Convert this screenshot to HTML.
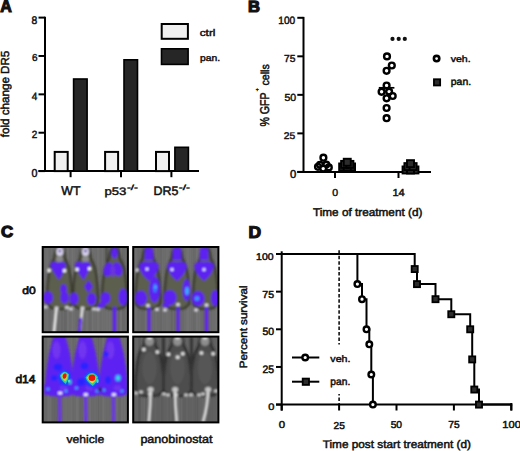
<!DOCTYPE html>
<html><head><meta charset="utf-8"><style>
html,body{margin:0;padding:0;background:#fff;}
svg{display:block;font-family:"Liberation Sans", sans-serif;text-rendering:geometricPrecision;}
</style></head><body>
<svg width="520" height="451" viewBox="0 0 520 451">
<text transform="matrix(0.9132 0.0000 0.0000 1.0000 0.2283 12.2000)" font-size="17.5" font-weight="bold" fill="#111" stroke="#111" stroke-width="1.2">A</text>
<line x1="45.00" y1="16.70" x2="45.00" y2="172.10" stroke="#000" stroke-width="2"/>
<line x1="38.50" y1="171.10" x2="199.00" y2="171.10" stroke="#000" stroke-width="2"/>
<line x1="38.50" y1="171.10" x2="45.00" y2="171.10" stroke="#000" stroke-width="2"/>
<text transform="matrix(0.9565 0.0000 0.0000 1.0182 31.5609 177.1455)" font-size="11.2" fill="#111" stroke="#111" stroke-width="0.5">0</text>
<line x1="38.50" y1="132.72" x2="45.00" y2="132.72" stroke="#000" stroke-width="2"/>
<text transform="matrix(0.8870 0.0000 0.0000 0.9333 31.7783 138.4667)" font-size="11.2" fill="#111" stroke="#111" stroke-width="0.5">2</text>
<line x1="38.50" y1="94.35" x2="45.00" y2="94.35" stroke="#000" stroke-width="2"/>
<text transform="matrix(0.8960 0.0000 0.0000 0.9455 31.7000 100.1636)" font-size="11.2" fill="#111" stroke="#111" stroke-width="0.5">4</text>
<line x1="38.50" y1="55.97" x2="45.00" y2="55.97" stroke="#000" stroke-width="2"/>
<text transform="matrix(0.8870 0.0000 0.0000 0.9091 31.9783 61.4727)" font-size="11.2" fill="#111" stroke="#111" stroke-width="0.5">6</text>
<line x1="38.50" y1="17.60" x2="45.00" y2="17.60" stroke="#000" stroke-width="2"/>
<text transform="matrix(0.9217 0.0000 0.0000 0.9818 31.4696 23.7545)" font-size="11.2" fill="#111" stroke="#111" stroke-width="0.5">8</text>
<rect x="54.70" y="151.91" width="13.00" height="19.19" fill="#f0f0f0" stroke="#000" stroke-width="2"/>
<rect x="73.60" y="79.00" width="13.50" height="92.10" fill="#262626" stroke="#000" stroke-width="1.6"/>
<rect x="105.10" y="151.91" width="13.00" height="19.19" fill="#f0f0f0" stroke="#000" stroke-width="2"/>
<rect x="124.00" y="59.81" width="13.50" height="111.29" fill="#262626" stroke="#000" stroke-width="1.6"/>
<rect x="156.00" y="151.91" width="13.00" height="19.19" fill="#f0f0f0" stroke="#000" stroke-width="2"/>
<rect x="174.90" y="147.31" width="13.50" height="23.79" fill="#262626" stroke="#000" stroke-width="1.6"/>
<line x1="70.60" y1="171.10" x2="70.60" y2="177.20" stroke="#000" stroke-width="2"/>
<line x1="121.00" y1="171.10" x2="121.00" y2="177.20" stroke="#000" stroke-width="2"/>
<line x1="171.40" y1="171.10" x2="171.40" y2="177.20" stroke="#000" stroke-width="2"/>
<text transform="matrix(0.9949 0.0000 0.0000 1.0111 61.2487 195.1472)" font-size="12.4" fill="#111" stroke="#111" stroke-width="0.5">WT</text>
<text transform="matrix(1.0600 0.0000 0.0000 0.8783 104.4700 194.5848)" font-size="12.4" fill="#111" stroke="#111" stroke-width="0.5">p53</text>
<text transform="matrix(1.3000 0.0000 0.0000 0.8286 126.9750 190.1929)" font-size="9" fill="#111" stroke="#111" stroke-width="0.5">-/-</text>
<text transform="matrix(1.0021 0.0000 0.0000 1.0000 153.4484 195.0500)" font-size="12.4" fill="#111" stroke="#111" stroke-width="0.5">DR5</text>
<text transform="matrix(1.3250 0.0000 0.0000 0.8286 178.6687 190.1929)" font-size="9" fill="#111" stroke="#111" stroke-width="0.5">-/-</text>
<text transform="matrix(0.0000 -0.9305 0.9333 0.0000 9.4333 137.3000)" font-size="12.5" fill="#111" stroke="#111" stroke-width="0.5">fold change DR5</text>
<rect x="161.70" y="24.00" width="26.20" height="14.80" fill="#f0f0f0" stroke="#000" stroke-width="2"/>
<rect x="161.50" y="48.80" width="26.60" height="15.60" fill="#262626" stroke="#000" stroke-width="1.6"/>
<text transform="matrix(1.1245 0.0000 0.0000 0.9091 199.7189 35.7727)" font-size="10.5" fill="#111" stroke="#111" stroke-width="0.5">ctrl</text>
<text transform="matrix(0.9818 0.0000 0.0000 0.8485 200.0091 60.7788)" font-size="10.5" fill="#111" stroke="#111" stroke-width="0.5">pan.</text>
<text transform="matrix(1.0364 0.0000 0.0000 1.0083 247.8818 11.7958)" font-size="16" font-weight="bold" fill="#111" stroke="#111" stroke-width="1.2">B</text>
<line x1="303.50" y1="16.90" x2="303.50" y2="172.80" stroke="#000" stroke-width="2"/>
<line x1="297.30" y1="171.90" x2="431.00" y2="171.90" stroke="#000" stroke-width="2"/>
<line x1="297.30" y1="171.90" x2="303.50" y2="171.90" stroke="#000" stroke-width="2"/>
<text transform="matrix(1.0087 0.0000 0.0000 1.0182 290.0478 178.2455)" font-size="11.2" fill="#111" stroke="#111" stroke-width="0.5">0</text>
<line x1="297.30" y1="133.38" x2="303.50" y2="133.38" stroke="#000" stroke-width="2"/>
<text transform="matrix(0.9167 0.0000 0.0000 0.8588 283.8708 139.4706)" font-size="11.2" fill="#111" stroke="#111" stroke-width="0.5">25</text>
<line x1="297.30" y1="94.85" x2="303.50" y2="94.85" stroke="#000" stroke-width="2"/>
<text transform="matrix(0.9417 0.0000 0.0000 0.9176 284.4646 100.5412)" font-size="11.2" fill="#111" stroke="#111" stroke-width="0.5">50</text>
<line x1="297.30" y1="56.33" x2="303.50" y2="56.33" stroke="#000" stroke-width="2"/>
<text transform="matrix(0.9167 0.0000 0.0000 0.9176 284.0708 62.2412)" font-size="11.2" fill="#111" stroke="#111" stroke-width="0.5">75</text>
<line x1="297.30" y1="17.80" x2="303.50" y2="17.80" stroke="#000" stroke-width="2"/>
<text transform="matrix(0.9056 0.0000 0.0000 0.9455 278.3472 23.6636)" font-size="11.2" fill="#111" stroke="#111" stroke-width="0.5">100</text>
<line x1="335.00" y1="171.90" x2="335.00" y2="178.00" stroke="#000" stroke-width="2"/>
<line x1="398.50" y1="171.90" x2="398.50" y2="178.00" stroke="#000" stroke-width="2"/>
<text transform="matrix(0.9391 0.0000 0.0000 0.9091 332.2652 196.2727)" font-size="11.2" fill="#111" stroke="#111" stroke-width="0.5">0</text>
<text transform="matrix(0.9917 0.0000 0.0000 0.9091 392.4042 196.2727)" font-size="11.2" fill="#111" stroke="#111" stroke-width="0.5">14</text>
<text transform="matrix(1.0522 0.0000 0.0000 1.0000 312.9000 215.6000)" font-size="11.2" fill="#111" stroke="#111" stroke-width="0.5">Time of treatment (d)</text>
<text transform="matrix(0.0000 -0.8868 1.0629 0.0000 268.8343 126.6217)" font-size="12" fill="#111" stroke="#111" stroke-width="0.5">% GFP</text>
<text transform="matrix(0.0000 -0.7500 0.7500 0.0000 259.1875 91.2000)" font-size="7" fill="#111" stroke="#111" stroke-width="0.5">+</text>
<text transform="matrix(0.0000 -0.8894 0.9622 0.0000 268.8595 85.5223)" font-size="12" fill="#111" stroke="#111" stroke-width="0.5">cells</text>
<circle cx="392.5" cy="38.9" r="2.1" fill="#111"/>
<circle cx="398.7" cy="38.9" r="2.1" fill="#111"/>
<circle cx="404.8" cy="38.9" r="2.1" fill="#111"/>
<circle cx="387.00" cy="56.40" r="2.9" fill="none" stroke="#000" stroke-width="2.4"/>
<circle cx="391.80" cy="65.50" r="2.9" fill="none" stroke="#000" stroke-width="2.4"/>
<circle cx="386.60" cy="70.80" r="2.9" fill="none" stroke="#000" stroke-width="2.4"/>
<circle cx="386.60" cy="85.50" r="2.9" fill="none" stroke="#000" stroke-width="2.4"/>
<circle cx="381.60" cy="91.80" r="2.9" fill="none" stroke="#000" stroke-width="2.4"/>
<circle cx="389.10" cy="91.60" r="2.9" fill="none" stroke="#000" stroke-width="2.4"/>
<circle cx="392.70" cy="96.00" r="2.9" fill="none" stroke="#000" stroke-width="2.4"/>
<circle cx="386.60" cy="98.30" r="2.9" fill="none" stroke="#000" stroke-width="2.4"/>
<circle cx="386.60" cy="108.00" r="2.9" fill="none" stroke="#000" stroke-width="2.4"/>
<circle cx="386.60" cy="118.20" r="2.9" fill="none" stroke="#000" stroke-width="2.4"/>
<line x1="378.80" y1="87.80" x2="394.40" y2="87.80" stroke="#000" stroke-width="1.7"/>
<circle cx="318.00" cy="166.80" r="2.9" fill="none" stroke="#000" stroke-width="2.4"/>
<circle cx="320.00" cy="164.80" r="2.9" fill="none" stroke="#000" stroke-width="2.4"/>
<circle cx="326.30" cy="164.60" r="2.9" fill="none" stroke="#000" stroke-width="2.4"/>
<circle cx="328.80" cy="167.40" r="2.9" fill="none" stroke="#000" stroke-width="2.4"/>
<circle cx="323.20" cy="168.60" r="2.9" fill="#fff" stroke="#000" stroke-width="2.4"/>
<circle cx="323.40" cy="157.70" r="2.9" fill="#fff" stroke="#000" stroke-width="2.4"/>
<rect x="339.15" y="163.45" width="7.0" height="7.0" fill="#2c2c2c" stroke="#000" stroke-width="1.9"/>
<rect x="348.05" y="163.45" width="7.0" height="7.0" fill="#2c2c2c" stroke="#000" stroke-width="1.9"/>
<rect x="343.70" y="163.50" width="7.0" height="7.0" fill="#2c2c2c" stroke="#000" stroke-width="1.9"/>
<rect x="341.10" y="160.90" width="7.0" height="7.0" fill="#2c2c2c" stroke="#000" stroke-width="1.9"/>
<rect x="346.40" y="160.90" width="7.0" height="7.0" fill="#2c2c2c" stroke="#000" stroke-width="1.9"/>
<rect x="343.75" y="158.75" width="7.0" height="7.0" fill="#2c2c2c" stroke="#000" stroke-width="1.9"/>
<rect x="402.55" y="166.45" width="7.0" height="7.0" fill="#2c2c2c" stroke="#000" stroke-width="1.9"/>
<rect x="411.45" y="166.45" width="7.0" height="7.0" fill="#2c2c2c" stroke="#000" stroke-width="1.9"/>
<rect x="407.00" y="166.50" width="7.0" height="7.0" fill="#2c2c2c" stroke="#000" stroke-width="1.9"/>
<rect x="404.40" y="163.10" width="7.0" height="7.0" fill="#2c2c2c" stroke="#000" stroke-width="1.9"/>
<rect x="409.60" y="163.10" width="7.0" height="7.0" fill="#2c2c2c" stroke="#000" stroke-width="1.9"/>
<rect x="407.00" y="160.15" width="7.0" height="7.0" fill="#2c2c2c" stroke="#000" stroke-width="1.9"/>
<circle cx="436.60" cy="58.60" r="2.7" fill="#fff" stroke="#000" stroke-width="2.6"/>
<rect x="433.95" y="79.25" width="6.2" height="6.2" fill="#2c2c2c" stroke="#000" stroke-width="1.8"/>
<text transform="matrix(1.0051 0.0000 0.0000 0.8485 450.6513 62.3879)" font-size="10.5" fill="#111" stroke="#111" stroke-width="0.5">veh.</text>
<text transform="matrix(0.9922 0.0000 0.0000 0.9576 450.8039 85.3061)" font-size="10.5" fill="#111" stroke="#111" stroke-width="0.5">pan.</text>
<text transform="matrix(1.0000 0.0000 0.0000 0.9769 248.5000 237.5115)" font-size="17.5" font-weight="bold" fill="#111" stroke="#111" stroke-width="1.2">D</text>
<line x1="281.70" y1="251.30" x2="281.70" y2="410.60" stroke="#000" stroke-width="2"/>
<line x1="276.00" y1="404.60" x2="512.30" y2="404.60" stroke="#000" stroke-width="2"/>
<line x1="276.00" y1="404.60" x2="281.70" y2="404.60" stroke="#000" stroke-width="2"/>
<text transform="matrix(1.0857 0.0000 0.0000 0.9333 268.3286 410.0667)" font-size="10.2" fill="#111" stroke="#111" stroke-width="0.5">0</text>
<line x1="276.00" y1="366.95" x2="281.70" y2="366.95" stroke="#000" stroke-width="2"/>
<text transform="matrix(1.0227 0.0000 0.0000 1.0667 262.4943 372.7333)" font-size="10.2" fill="#111" stroke="#111" stroke-width="0.5">25</text>
<line x1="276.00" y1="329.30" x2="281.70" y2="329.30" stroke="#000" stroke-width="2"/>
<text transform="matrix(1.0227 0.0000 0.0000 1.0333 262.4943 334.9917)" font-size="10.2" fill="#111" stroke="#111" stroke-width="0.5">50</text>
<line x1="276.00" y1="291.65" x2="281.70" y2="291.65" stroke="#000" stroke-width="2"/>
<text transform="matrix(1.0364 0.0000 0.0000 0.9867 262.3409 297.7533)" font-size="10.2" fill="#111" stroke="#111" stroke-width="0.5">75</text>
<line x1="276.00" y1="254.00" x2="281.70" y2="254.00" stroke="#000" stroke-width="2"/>
<text transform="matrix(1.0277 0.0000 0.0000 0.9600 256.0862 259.9600)" font-size="10.2" fill="#111" stroke="#111" stroke-width="0.5">100</text>
<line x1="281.70" y1="404.60" x2="281.70" y2="410.50" stroke="#000" stroke-width="2"/>
<text transform="matrix(1.1238 0.0000 0.0000 0.9867 278.7190 428.3533)" font-size="10.2" fill="#111" stroke="#111" stroke-width="0.5">0</text>
<line x1="339.10" y1="404.60" x2="339.10" y2="410.50" stroke="#000" stroke-width="2"/>
<text transform="matrix(1.0000 0.0000 0.0000 0.9733 333.5500 428.6567)" font-size="10.2" fill="#111" stroke="#111" stroke-width="0.5">25</text>
<line x1="396.50" y1="404.60" x2="396.50" y2="410.50" stroke="#000" stroke-width="2"/>
<text transform="matrix(1.0091 0.0000 0.0000 0.9733 390.6477 428.2567)" font-size="10.2" fill="#111" stroke="#111" stroke-width="0.5">50</text>
<line x1="453.90" y1="404.60" x2="453.90" y2="410.50" stroke="#000" stroke-width="2"/>
<text transform="matrix(1.0000 0.0000 0.0000 0.9867 448.2500 428.4533)" font-size="10.2" fill="#111" stroke="#111" stroke-width="0.5">75</text>
<line x1="511.30" y1="404.60" x2="511.30" y2="410.50" stroke="#000" stroke-width="2"/>
<text transform="matrix(1.0892 0.0000 0.0000 1.0000 502.3554 428.3500)" font-size="10.2" fill="#111" stroke="#111" stroke-width="0.5">100</text>
<line x1="511.30" y1="403.00" x2="511.30" y2="410.50" stroke="#000" stroke-width="2"/>
<text transform="matrix(1.0531 0.0000 0.0000 0.9909 322.7000 447.8227)" font-size="11.2" fill="#111" stroke="#111" stroke-width="0.5">Time post start treatment (d)</text>
<text transform="matrix(0.0000 -1.0018 0.9189 0.0000 246.5405 368.1514)" font-size="11.6" fill="#111" stroke="#111" stroke-width="0.5">Percent survival</text>
<line x1="339.10" y1="250.3" x2="339.10" y2="404" stroke="#000" stroke-width="1.5" stroke-dasharray="3.5,1.95"/>
<polyline points="281.7,254.0 414.7,254.0 414.7,269.1 417.0,269.1 417.0,284.1 435.5,284.1 435.5,299.2 451.3,299.2 451.3,314.2 470.2,314.2 470.2,329.3 472.2,329.3 472.2,359.4 474.3,359.4 474.3,389.5 479.0,389.5 479.0,404.6 511.3,404.6" fill="none" stroke="#000" stroke-width="2"/>
<polyline points="281.7,254.0 357.4,254.0 357.4,284.1 362.0,284.1 362.0,299.2 366.5,299.2 366.5,329.3 369.3,329.3 369.3,344.4 371.3,344.4 371.3,374.5 372.9,374.5 372.9,404.6" fill="none" stroke="#000" stroke-width="2"/>
<circle cx="357.40" cy="284.12" r="2.8" fill="#fff" stroke="#000" stroke-width="2.4"/>
<circle cx="362.00" cy="299.18" r="2.8" fill="#fff" stroke="#000" stroke-width="2.4"/>
<circle cx="366.50" cy="329.30" r="2.8" fill="#fff" stroke="#000" stroke-width="2.4"/>
<circle cx="369.30" cy="344.36" r="2.8" fill="#fff" stroke="#000" stroke-width="2.4"/>
<circle cx="371.30" cy="374.48" r="2.8" fill="#fff" stroke="#000" stroke-width="2.4"/>
<circle cx="372.90" cy="404.60" r="2.8" fill="#fff" stroke="#000" stroke-width="2.4"/>
<rect x="411.65" y="266.01" width="6.1" height="6.1" fill="#2c2c2c" stroke="#000" stroke-width="1.8"/>
<rect x="413.95" y="281.07" width="6.1" height="6.1" fill="#2c2c2c" stroke="#000" stroke-width="1.8"/>
<rect x="432.45" y="296.13" width="6.1" height="6.1" fill="#2c2c2c" stroke="#000" stroke-width="1.8"/>
<rect x="448.25" y="311.19" width="6.1" height="6.1" fill="#2c2c2c" stroke="#000" stroke-width="1.8"/>
<rect x="467.15" y="326.25" width="6.1" height="6.1" fill="#2c2c2c" stroke="#000" stroke-width="1.8"/>
<rect x="469.15" y="356.37" width="6.1" height="6.1" fill="#2c2c2c" stroke="#000" stroke-width="1.8"/>
<rect x="471.25" y="386.49" width="6.1" height="6.1" fill="#2c2c2c" stroke="#000" stroke-width="1.8"/>
<rect x="475.95" y="401.55" width="6.1" height="6.1" fill="#2c2c2c" stroke="#000" stroke-width="1.8"/>
<rect x="300" y="344.5" width="56" height="49.5" fill="#fff"/>
<line x1="292.00" y1="357.50" x2="319.30" y2="357.50" stroke="#000" stroke-width="2"/>
<circle cx="305.20" cy="357.50" r="2.8" fill="#fff" stroke="#000" stroke-width="2.4"/>
<text transform="matrix(1.0154 0.0000 0.0000 0.8970 330.3538 361.9758)" font-size="10.5" fill="#111" stroke="#111" stroke-width="0.5">veh.</text>
<line x1="292.00" y1="381.70" x2="319.30" y2="381.70" stroke="#000" stroke-width="2"/>
<rect x="302.70" y="378.60" width="6.3" height="6.3" fill="#2c2c2c" stroke="#000" stroke-width="1.8"/>
<text transform="matrix(0.9766 0.0000 0.0000 0.9818 330.3117 385.3455)" font-size="10.5" fill="#111" stroke="#111" stroke-width="0.5">pan.</text>
<text transform="matrix(0.9920 0.0000 0.0000 0.9358 0.9000 236.9981)" font-size="17" font-weight="bold" fill="#111" stroke="#111" stroke-width="1.3">C</text>
<text transform="matrix(1.0038 0.0000 0.0000 0.8718 22.2000 293.6641)" font-size="12" fill="#111" stroke="#111" stroke-width="0.8">d0</text>
<text transform="matrix(1.0050 0.0000 0.0000 0.9538 15.4000 383.2231)" font-size="12" fill="#111" stroke="#111" stroke-width="0.8">d14</text>
<text transform="matrix(1.0094 0.0000 0.0000 0.9189 66.4523 443.2703)" font-size="12" fill="#111" stroke="#111" stroke-width="0.5">vehicle</text>
<text transform="matrix(1.0482 0.0000 0.0000 0.9617 140.3759 443.1553)" font-size="12" fill="#111" stroke="#111" stroke-width="0.5">panobinostat</text>
<defs><filter id="bl" x="-10%" y="-10%" width="120%" height="120%"><feGaussianBlur stdDeviation="1.0"/></filter><filter id="bl2" x="-10%" y="-10%" width="120%" height="120%"><feGaussianBlur stdDeviation="0.55"/></filter></defs>
<clipPath id="c1"><rect x="42.7" y="247" width="85.2" height="85.2"/></clipPath><g clip-path="url(#c1)"><rect x="42.7" y="247" width="85.2" height="85.2" fill="#6c6c6c"/><rect x="42.7" y="247" width="1.5" height="85.2" fill="rgb(114,114,114)" opacity="0.5"/><rect x="44.2" y="247" width="1" height="85.2" fill="rgb(104,104,104)" opacity="0.5"/><rect x="45.2" y="247" width="1" height="85.2" fill="rgb(111,111,111)" opacity="0.5"/><rect x="46.2" y="247" width="2.5" height="85.2" fill="rgb(111,111,111)" opacity="0.5"/><rect x="48.7" y="247" width="2.5" height="85.2" fill="rgb(102,102,102)" opacity="0.5"/><rect x="51.2" y="247" width="1" height="85.2" fill="rgb(111,111,111)" opacity="0.5"/><rect x="52.2" y="247" width="1" height="85.2" fill="rgb(108,108,108)" opacity="0.5"/><rect x="53.2" y="247" width="2.5" height="85.2" fill="rgb(115,115,115)" opacity="0.5"/><rect x="55.7" y="247" width="1" height="85.2" fill="rgb(118,118,118)" opacity="0.5"/><rect x="56.7" y="247" width="2.5" height="85.2" fill="rgb(104,104,104)" opacity="0.5"/><rect x="59.2" y="247" width="1.5" height="85.2" fill="rgb(114,114,114)" opacity="0.5"/><rect x="60.7" y="247" width="1" height="85.2" fill="rgb(106,106,106)" opacity="0.5"/><rect x="61.7" y="247" width="1" height="85.2" fill="rgb(96,96,96)" opacity="0.5"/><rect x="62.7" y="247" width="1" height="85.2" fill="rgb(116,116,116)" opacity="0.5"/><rect x="63.7" y="247" width="3" height="85.2" fill="rgb(96,96,96)" opacity="0.5"/><rect x="66.7" y="247" width="2.5" height="85.2" fill="rgb(117,117,117)" opacity="0.5"/><rect x="69.2" y="247" width="1.5" height="85.2" fill="rgb(109,109,109)" opacity="0.5"/><rect x="70.7" y="247" width="1" height="85.2" fill="rgb(112,112,112)" opacity="0.5"/><rect x="71.7" y="247" width="1.5" height="85.2" fill="rgb(120,120,120)" opacity="0.5"/><rect x="73.2" y="247" width="2.5" height="85.2" fill="rgb(111,111,111)" opacity="0.5"/><rect x="75.7" y="247" width="3" height="85.2" fill="rgb(103,103,103)" opacity="0.5"/><rect x="78.7" y="247" width="2" height="85.2" fill="rgb(103,103,103)" opacity="0.5"/><rect x="80.7" y="247" width="1.5" height="85.2" fill="rgb(120,120,120)" opacity="0.5"/><rect x="82.2" y="247" width="2.5" height="85.2" fill="rgb(105,105,105)" opacity="0.5"/><rect x="84.7" y="247" width="1" height="85.2" fill="rgb(109,109,109)" opacity="0.5"/><rect x="85.7" y="247" width="3" height="85.2" fill="rgb(116,116,116)" opacity="0.5"/><rect x="88.7" y="247" width="1" height="85.2" fill="rgb(101,101,101)" opacity="0.5"/><rect x="89.7" y="247" width="2" height="85.2" fill="rgb(99,99,99)" opacity="0.5"/><rect x="91.7" y="247" width="2" height="85.2" fill="rgb(119,119,119)" opacity="0.5"/><rect x="93.7" y="247" width="3" height="85.2" fill="rgb(109,109,109)" opacity="0.5"/><rect x="96.7" y="247" width="3" height="85.2" fill="rgb(117,117,117)" opacity="0.5"/><rect x="99.7" y="247" width="1.5" height="85.2" fill="rgb(105,105,105)" opacity="0.5"/><rect x="101.2" y="247" width="2" height="85.2" fill="rgb(114,114,114)" opacity="0.5"/><rect x="103.2" y="247" width="2.5" height="85.2" fill="rgb(112,112,112)" opacity="0.5"/><rect x="105.7" y="247" width="2.5" height="85.2" fill="rgb(114,114,114)" opacity="0.5"/><rect x="108.2" y="247" width="1" height="85.2" fill="rgb(111,111,111)" opacity="0.5"/><rect x="109.2" y="247" width="1.5" height="85.2" fill="rgb(119,119,119)" opacity="0.5"/><rect x="110.7" y="247" width="2.5" height="85.2" fill="rgb(109,109,109)" opacity="0.5"/><rect x="113.2" y="247" width="1.5" height="85.2" fill="rgb(107,107,107)" opacity="0.5"/><rect x="114.7" y="247" width="3" height="85.2" fill="rgb(118,118,118)" opacity="0.5"/><rect x="117.7" y="247" width="2" height="85.2" fill="rgb(98,98,98)" opacity="0.5"/><rect x="119.7" y="247" width="2.5" height="85.2" fill="rgb(117,117,117)" opacity="0.5"/><rect x="122.2" y="247" width="3" height="85.2" fill="rgb(99,99,99)" opacity="0.5"/><rect x="125.2" y="247" width="1.5" height="85.2" fill="rgb(112,112,112)" opacity="0.5"/><rect x="126.7" y="247" width="2.5" height="85.2" fill="rgb(107,107,107)" opacity="0.5"/><g filter="url(#bl)"><path d="M59.5,247.0 L62.7,249.0 L64.1,253.0 L64.7,258.0 L67.0,263.0 L69.0,268.0 L70.5,277.0 L71.5,287.0 L72.1,297.0 L71.7,304.0 L67.5,308.0 L62.5,309.0 L56.5,309.0 L51.5,308.0 L47.3,304.0 L46.9,297.0 L47.5,287.0 L48.5,277.0 L50.0,268.0 L52.0,263.0 L54.3,258.0 L54.9,253.0 L56.3,249.0 L59.5,247.0 Z" fill="#5c5e4e" stroke="#38382c" stroke-width="2.2"/><line x1="56.5" y1="308.0" x2="54.0" y2="332.0" stroke="#ececec" stroke-width="2.6" stroke-linecap="round"/><path d="M85.5,247.0 L88.7,249.0 L90.1,253.0 L90.7,258.0 L93.0,263.0 L95.0,268.0 L96.5,277.0 L97.5,287.0 L98.1,297.0 L97.7,304.0 L93.5,308.0 L88.5,309.0 L82.5,309.0 L77.5,308.0 L73.3,304.0 L72.9,297.0 L73.5,287.0 L74.5,277.0 L76.0,268.0 L78.0,263.0 L80.3,258.0 L80.9,253.0 L82.3,249.0 L85.5,247.0 Z" fill="#5c5e4e" stroke="#38382c" stroke-width="2.2"/><line x1="82.5" y1="308.0" x2="79.5" y2="332.0" stroke="#e2e2e2" stroke-width="2.6" stroke-linecap="round"/><path d="M114.5,247.0 L117.7,249.0 L119.1,253.0 L119.7,258.0 L122.0,263.0 L124.0,268.0 L125.5,277.0 L126.5,287.0 L127.1,297.0 L126.7,304.0 L122.5,308.0 L117.5,309.0 L111.5,309.0 L106.5,308.0 L102.3,304.0 L101.9,297.0 L102.5,287.0 L103.5,277.0 L105.0,268.0 L107.0,263.0 L109.3,258.0 L109.9,253.0 L111.3,249.0 L114.5,247.0 Z" fill="#5c5e4e" stroke="#38382c" stroke-width="2.2"/><line x1="114.5" y1="308.0" x2="114.5" y2="332.0" stroke="#5d22f2" stroke-width="3.6" stroke-linecap="round"/><line x1="80.6" y1="319.0" x2="79.3" y2="332.0" stroke="#5d22f2" stroke-width="2.8" stroke-linecap="round"/><ellipse cx="59.8" cy="251.5" rx="3.4" ry="4.6" fill="#e0daf4"/><ellipse cx="59.8" cy="251.0" rx="1.1" ry="1.7" fill="#3a1a80"/><ellipse cx="59.5" cy="259.0" rx="3.5" ry="3.5" fill="#8a8a88"/><ellipse cx="85.5" cy="251.5" rx="3.4" ry="4.6" fill="#e0daf4"/><ellipse cx="85.5" cy="251.0" rx="1.1" ry="1.7" fill="#3a1a80"/><ellipse cx="85.5" cy="259.0" rx="3.5" ry="3.5" fill="#8a8a88"/><ellipse cx="114.5" cy="253.0" rx="3.2" ry="5.5" fill="#5d22f2"/><path d="M50,264 Q54,260 58,263 Q62,260 66,264 Q65,271 59,280 Q52,271 50,264 Z" fill="#5d22f2"/><path d="M74.5,264 Q78.5,260 82.5,263 Q86.5,260 90.5,264 Q89.5,271 83.5,280 Q76.5,271 74.5,264 Z" fill="#5d22f2"/><ellipse cx="108.2" cy="269.5" rx="4.6" ry="7.2" fill="#5d22f2" transform="rotate(15 108.2 269.5)"/><ellipse cx="117.5" cy="269.2" rx="4.6" ry="7.2" fill="#5d22f2" transform="rotate(-15 117.5 269.2)"/><ellipse cx="112.8" cy="271.0" rx="2.2" ry="6" fill="#6a38d8"/><line x1="106.5" y1="247.0" x2="106.5" y2="262.0" stroke="#3a3a34" stroke-width="1.6" stroke-linecap="round"/><polygon points="88.5,280.0 93.0,286.5 88.5,293.0 84.0,286.5" fill="#5d22f2"/><ellipse cx="63.5" cy="289.0" rx="3.3" ry="5" fill="#5d22f2"/><ellipse cx="48.0" cy="297.5" rx="5" ry="6.2" fill="#5d22f2"/><ellipse cx="64.5" cy="297.5" rx="4.2" ry="6" fill="#5d22f2"/><ellipse cx="74.0" cy="298.5" rx="4.5" ry="6" fill="#5d22f2"/><ellipse cx="91.5" cy="299.0" rx="4.6" ry="6.2" fill="#5d22f2"/><ellipse cx="105.5" cy="298.0" rx="5" ry="6" fill="#5d22f2"/><ellipse cx="123.0" cy="297.0" rx="4.5" ry="8.5" fill="#5d22f2"/><ellipse cx="101.5" cy="305.0" rx="4.5" ry="2.6" fill="#5d22f2" transform="rotate(-30 101.5 305.0)"/><ellipse cx="49.0" cy="270.4" rx="1.8" ry="1.8" fill="#ffffff"/><ellipse cx="64.5" cy="270.8" rx="1.8" ry="1.8" fill="#ffffff"/><ellipse cx="77.0" cy="269.5" rx="1.8" ry="1.8" fill="#ffffff"/><ellipse cx="89.5" cy="268.8" rx="1.8" ry="1.8" fill="#ffffff"/><ellipse cx="45.5" cy="307.0" rx="2.2" ry="1.5" fill="#d8d8e0"/><ellipse cx="67.0" cy="307.5" rx="2.2" ry="1.5" fill="#d8d8e0"/><ellipse cx="71.0" cy="309.0" rx="2.2" ry="1.5" fill="#d8d8e0"/><ellipse cx="94.0" cy="309.0" rx="2.2" ry="1.5" fill="#d8d8e0"/><ellipse cx="98.0" cy="309.5" rx="2.2" ry="1.5" fill="#d8d8e0"/><ellipse cx="56.5" cy="308.0" rx="2.2" ry="1.5" fill="#d8d8e0"/><ellipse cx="82.5" cy="308.0" rx="2.2" ry="1.5" fill="#d8d8e0"/></g><g filter="url(#bl2)"></g></g><rect x="42.7" y="247" width="85.2" height="85.2" fill="none" stroke="#000" stroke-width="2"/>
<clipPath id="c2"><rect x="133.2" y="247" width="85.2" height="85.2"/></clipPath><g clip-path="url(#c2)"><rect x="133.2" y="247" width="85.2" height="85.2" fill="#6c6c6c"/><rect x="133.2" y="247" width="1" height="85.2" fill="rgb(98,98,98)" opacity="0.5"/><rect x="134.2" y="247" width="1" height="85.2" fill="rgb(107,107,107)" opacity="0.5"/><rect x="135.2" y="247" width="1.5" height="85.2" fill="rgb(119,119,119)" opacity="0.5"/><rect x="136.7" y="247" width="2" height="85.2" fill="rgb(104,104,104)" opacity="0.5"/><rect x="138.7" y="247" width="3" height="85.2" fill="rgb(102,102,102)" opacity="0.5"/><rect x="141.7" y="247" width="3" height="85.2" fill="rgb(97,97,97)" opacity="0.5"/><rect x="144.7" y="247" width="3" height="85.2" fill="rgb(117,117,117)" opacity="0.5"/><rect x="147.7" y="247" width="1.5" height="85.2" fill="rgb(109,109,109)" opacity="0.5"/><rect x="149.2" y="247" width="2.5" height="85.2" fill="rgb(119,119,119)" opacity="0.5"/><rect x="151.7" y="247" width="3" height="85.2" fill="rgb(107,107,107)" opacity="0.5"/><rect x="154.7" y="247" width="3" height="85.2" fill="rgb(110,110,110)" opacity="0.5"/><rect x="157.7" y="247" width="3" height="85.2" fill="rgb(104,104,104)" opacity="0.5"/><rect x="160.7" y="247" width="1" height="85.2" fill="rgb(96,96,96)" opacity="0.5"/><rect x="161.7" y="247" width="2" height="85.2" fill="rgb(110,110,110)" opacity="0.5"/><rect x="163.7" y="247" width="2" height="85.2" fill="rgb(108,108,108)" opacity="0.5"/><rect x="165.7" y="247" width="2.5" height="85.2" fill="rgb(112,112,112)" opacity="0.5"/><rect x="168.2" y="247" width="1.5" height="85.2" fill="rgb(113,113,113)" opacity="0.5"/><rect x="169.7" y="247" width="1.5" height="85.2" fill="rgb(103,103,103)" opacity="0.5"/><rect x="171.2" y="247" width="1.5" height="85.2" fill="rgb(96,96,96)" opacity="0.5"/><rect x="172.7" y="247" width="1.5" height="85.2" fill="rgb(106,106,106)" opacity="0.5"/><rect x="174.2" y="247" width="1.5" height="85.2" fill="rgb(100,100,100)" opacity="0.5"/><rect x="175.7" y="247" width="3" height="85.2" fill="rgb(112,112,112)" opacity="0.5"/><rect x="178.7" y="247" width="2" height="85.2" fill="rgb(112,112,112)" opacity="0.5"/><rect x="180.7" y="247" width="3" height="85.2" fill="rgb(101,101,101)" opacity="0.5"/><rect x="183.7" y="247" width="2.5" height="85.2" fill="rgb(109,109,109)" opacity="0.5"/><rect x="186.2" y="247" width="3" height="85.2" fill="rgb(120,120,120)" opacity="0.5"/><rect x="189.2" y="247" width="2" height="85.2" fill="rgb(114,114,114)" opacity="0.5"/><rect x="191.2" y="247" width="2" height="85.2" fill="rgb(107,107,107)" opacity="0.5"/><rect x="193.2" y="247" width="2.5" height="85.2" fill="rgb(101,101,101)" opacity="0.5"/><rect x="195.7" y="247" width="2.5" height="85.2" fill="rgb(118,118,118)" opacity="0.5"/><rect x="198.2" y="247" width="2.5" height="85.2" fill="rgb(116,116,116)" opacity="0.5"/><rect x="200.7" y="247" width="3" height="85.2" fill="rgb(103,103,103)" opacity="0.5"/><rect x="203.7" y="247" width="2.5" height="85.2" fill="rgb(104,104,104)" opacity="0.5"/><rect x="206.2" y="247" width="2.5" height="85.2" fill="rgb(112,112,112)" opacity="0.5"/><rect x="208.7" y="247" width="3" height="85.2" fill="rgb(107,107,107)" opacity="0.5"/><rect x="211.7" y="247" width="2.5" height="85.2" fill="rgb(110,110,110)" opacity="0.5"/><rect x="214.2" y="247" width="2" height="85.2" fill="rgb(114,114,114)" opacity="0.5"/><rect x="216.2" y="247" width="3" height="85.2" fill="rgb(119,119,119)" opacity="0.5"/><g filter="url(#bl)"><path d="M148.0,247.0 L151.2,249.0 L152.6,253.0 L153.2,258.0 L155.5,263.0 L157.5,268.0 L159.0,277.0 L160.0,287.0 L160.6,297.0 L160.2,304.0 L156.0,308.0 L151.0,309.0 L145.0,309.0 L140.0,308.0 L135.8,304.0 L135.4,297.0 L136.0,287.0 L137.0,277.0 L138.5,268.0 L140.5,263.0 L142.8,258.0 L143.4,253.0 L144.8,249.0 L148.0,247.0 Z" fill="#5c5e4e" stroke="#38382c" stroke-width="2.2"/><line x1="149.0" y1="308.0" x2="149.0" y2="332.0" stroke="#5d22f2" stroke-width="3.2" stroke-linecap="round"/><path d="M177.0,247.0 L180.2,249.0 L181.6,253.0 L182.2,258.0 L184.5,263.0 L186.5,268.0 L188.0,277.0 L189.0,287.0 L189.6,297.0 L189.2,304.0 L185.0,308.0 L180.0,309.0 L174.0,309.0 L169.0,308.0 L164.8,304.0 L164.4,297.0 L165.0,287.0 L166.0,277.0 L167.5,268.0 L169.5,263.0 L171.8,258.0 L172.4,253.0 L173.8,249.0 L177.0,247.0 Z" fill="#5c5e4e" stroke="#38382c" stroke-width="2.2"/><line x1="178.0" y1="308.0" x2="178.0" y2="332.0" stroke="#5d22f2" stroke-width="3.2" stroke-linecap="round"/><path d="M205.5,247.0 L208.7,249.0 L210.1,253.0 L210.7,258.0 L213.0,263.0 L215.0,268.0 L216.5,277.0 L217.5,287.0 L218.1,297.0 L217.7,304.0 L213.5,308.0 L208.5,309.0 L202.5,309.0 L197.5,308.0 L193.3,304.0 L192.9,297.0 L193.5,287.0 L194.5,277.0 L196.0,268.0 L198.0,263.0 L200.3,258.0 L200.9,253.0 L202.3,249.0 L205.5,247.0 Z" fill="#5c5e4e" stroke="#38382c" stroke-width="2.2"/><line x1="206.5" y1="308.0" x2="206.5" y2="332.0" stroke="#5d22f2" stroke-width="3.2" stroke-linecap="round"/><path d="M145,248 L153,248 L153.5,260 L144.5,260 Z" fill="#5d22f2"/><path d="M139,265 Q143,260 149,262 Q155,260 159,265 Q158,274 149,281 Q140,274 139,265 Z" fill="#5d22f2"/><path d="M173,248 L181,248 L181.5,260 L172.5,260 Z" fill="#5d22f2"/><path d="M167,265 Q171,260 177,262 Q183,260 187,265 Q186,274 177,281 Q168,274 167,265 Z" fill="#5d22f2"/><path d="M200,248 L208,248 L208.5,260 L199.5,260 Z" fill="#5d22f2"/><path d="M194,265 Q198,260 204,262 Q210,260 214,265 Q213,274 204,281 Q195,274 194,265 Z" fill="#5d22f2"/><ellipse cx="154.5" cy="289.5" rx="5.5" ry="13" fill="#5d22f2"/><ellipse cx="155.0" cy="288.0" rx="1.8" ry="4.5" fill="#2a7bff"/><ellipse cx="155.5" cy="287.0" rx="1" ry="1.5" fill="#50c8ff"/><ellipse cx="186.5" cy="290.0" rx="4" ry="11" fill="#5d22f2"/><ellipse cx="187.0" cy="291.0" rx="1.8" ry="4" fill="#36b0ff"/><ellipse cx="141.0" cy="298.0" rx="6" ry="7.5" fill="#5d22f2"/><ellipse cx="170.0" cy="297.5" rx="6.5" ry="7.5" fill="#5d22f2"/><ellipse cx="166.0" cy="305.0" rx="3.5" ry="2.5" fill="#5d22f2"/><ellipse cx="198.0" cy="298.5" rx="6.5" ry="7.5" fill="#5d22f2"/><ellipse cx="197.0" cy="298.5" rx="2.2" ry="2.2" fill="#2a9cff"/><ellipse cx="215.0" cy="298.0" rx="4" ry="8" fill="#5d22f2"/><ellipse cx="137.0" cy="270.0" rx="1.5" ry="1.5" fill="#f4f4ff"/><ellipse cx="147.0" cy="269.0" rx="1.5" ry="1.5" fill="#f4f4ff"/><ellipse cx="172.0" cy="269.6" rx="1.5" ry="1.5" fill="#f4f4ff"/><ellipse cx="204.0" cy="269.6" rx="1.5" ry="1.5" fill="#f4f4ff"/><ellipse cx="148.0" cy="305.5" rx="2.0" ry="1.5" fill="#eae8f4"/><ellipse cx="157.0" cy="309.5" rx="2.0" ry="1.5" fill="#eae8f4"/><ellipse cx="165.0" cy="310.0" rx="2.0" ry="1.5" fill="#eae8f4"/><ellipse cx="178.0" cy="304.5" rx="2.0" ry="1.5" fill="#eae8f4"/><ellipse cx="196.0" cy="310.0" rx="2.0" ry="1.5" fill="#eae8f4"/><ellipse cx="206.5" cy="305.0" rx="2.0" ry="1.5" fill="#eae8f4"/></g><g filter="url(#bl2)"></g></g><rect x="133.2" y="247" width="85.2" height="85.2" fill="none" stroke="#000" stroke-width="2"/>
<clipPath id="c3"><rect x="42.7" y="336.6" width="85.2" height="85.8"/></clipPath><g clip-path="url(#c3)"><rect x="42.7" y="336.6" width="85.2" height="85.8" fill="#6a6a6a"/><rect x="42.7" y="336.6" width="1.5" height="85.8" fill="rgb(112,112,112)" opacity="0.5"/><rect x="44.2" y="336.6" width="3" height="85.8" fill="rgb(98,98,98)" opacity="0.5"/><rect x="47.2" y="336.6" width="2" height="85.8" fill="rgb(113,113,113)" opacity="0.5"/><rect x="49.2" y="336.6" width="2.5" height="85.8" fill="rgb(114,114,114)" opacity="0.5"/><rect x="51.7" y="336.6" width="3" height="85.8" fill="rgb(96,96,96)" opacity="0.5"/><rect x="54.7" y="336.6" width="3" height="85.8" fill="rgb(94,94,94)" opacity="0.5"/><rect x="57.7" y="336.6" width="2.5" height="85.8" fill="rgb(102,102,102)" opacity="0.5"/><rect x="60.2" y="336.6" width="3" height="85.8" fill="rgb(101,101,101)" opacity="0.5"/><rect x="63.2" y="336.6" width="1.5" height="85.8" fill="rgb(116,116,116)" opacity="0.5"/><rect x="64.7" y="336.6" width="2.5" height="85.8" fill="rgb(111,111,111)" opacity="0.5"/><rect x="67.2" y="336.6" width="3" height="85.8" fill="rgb(109,109,109)" opacity="0.5"/><rect x="70.2" y="336.6" width="2.5" height="85.8" fill="rgb(114,114,114)" opacity="0.5"/><rect x="72.7" y="336.6" width="1.5" height="85.8" fill="rgb(101,101,101)" opacity="0.5"/><rect x="74.2" y="336.6" width="1.5" height="85.8" fill="rgb(110,110,110)" opacity="0.5"/><rect x="75.7" y="336.6" width="2.5" height="85.8" fill="rgb(117,117,117)" opacity="0.5"/><rect x="78.2" y="336.6" width="1" height="85.8" fill="rgb(115,115,115)" opacity="0.5"/><rect x="79.2" y="336.6" width="1" height="85.8" fill="rgb(99,99,99)" opacity="0.5"/><rect x="80.2" y="336.6" width="3" height="85.8" fill="rgb(95,95,95)" opacity="0.5"/><rect x="83.2" y="336.6" width="2" height="85.8" fill="rgb(118,118,118)" opacity="0.5"/><rect x="85.2" y="336.6" width="1" height="85.8" fill="rgb(102,102,102)" opacity="0.5"/><rect x="86.2" y="336.6" width="2.5" height="85.8" fill="rgb(113,113,113)" opacity="0.5"/><rect x="88.7" y="336.6" width="2.5" height="85.8" fill="rgb(116,116,116)" opacity="0.5"/><rect x="91.2" y="336.6" width="2.5" height="85.8" fill="rgb(106,106,106)" opacity="0.5"/><rect x="93.7" y="336.6" width="3" height="85.8" fill="rgb(108,108,108)" opacity="0.5"/><rect x="96.7" y="336.6" width="1.5" height="85.8" fill="rgb(105,105,105)" opacity="0.5"/><rect x="98.2" y="336.6" width="1" height="85.8" fill="rgb(95,95,95)" opacity="0.5"/><rect x="99.2" y="336.6" width="1.5" height="85.8" fill="rgb(109,109,109)" opacity="0.5"/><rect x="100.7" y="336.6" width="1.5" height="85.8" fill="rgb(102,102,102)" opacity="0.5"/><rect x="102.2" y="336.6" width="2.5" height="85.8" fill="rgb(118,118,118)" opacity="0.5"/><rect x="104.7" y="336.6" width="2" height="85.8" fill="rgb(107,107,107)" opacity="0.5"/><rect x="106.7" y="336.6" width="3" height="85.8" fill="rgb(106,106,106)" opacity="0.5"/><rect x="109.7" y="336.6" width="3" height="85.8" fill="rgb(105,105,105)" opacity="0.5"/><rect x="112.7" y="336.6" width="3" height="85.8" fill="rgb(112,112,112)" opacity="0.5"/><rect x="115.7" y="336.6" width="2.5" height="85.8" fill="rgb(112,112,112)" opacity="0.5"/><rect x="118.2" y="336.6" width="1.5" height="85.8" fill="rgb(104,104,104)" opacity="0.5"/><rect x="119.7" y="336.6" width="1" height="85.8" fill="rgb(102,102,102)" opacity="0.5"/><rect x="120.7" y="336.6" width="3" height="85.8" fill="rgb(115,115,115)" opacity="0.5"/><rect x="123.7" y="336.6" width="1.5" height="85.8" fill="rgb(116,116,116)" opacity="0.5"/><rect x="125.2" y="336.6" width="2" height="85.8" fill="rgb(111,111,111)" opacity="0.5"/><rect x="127.2" y="336.6" width="3" height="85.8" fill="rgb(112,112,112)" opacity="0.5"/><g filter="url(#bl)"><polygon points="65.0,335.0 67.5,344.0 70.0,354.0 72.0,366.0 73.5,378.0 74.0,391.0 69.5,396.0 62.5,396.5 56.5,396.5 49.5,396.0 45.0,391.0 45.5,378.0 47.0,366.0 49.0,354.0 51.5,344.0 54.0,335.0" fill="#5d22f2"/><line x1="59.5" y1="395.0" x2="59.8" y2="423.0" stroke="#6a30f0" stroke-width="3.2" stroke-linecap="round"/><polygon points="91.0,335.0 93.5,344.0 96.0,354.0 98.0,366.0 99.5,378.0 100.0,391.0 95.5,396.0 88.5,396.5 82.5,396.5 75.5,396.0 71.0,391.0 71.5,378.0 73.0,366.0 75.0,354.0 77.5,344.0 80.0,335.0" fill="#5d22f2"/><line x1="85.5" y1="395.0" x2="85.8" y2="423.0" stroke="#6a30f0" stroke-width="3.2" stroke-linecap="round"/><polygon points="118.8,335.0 121.3,344.0 123.8,354.0 125.8,366.0 127.3,378.0 127.8,391.0 123.3,396.0 116.3,396.5 110.3,396.5 103.3,396.0 98.8,391.0 99.3,378.0 100.8,366.0 102.8,354.0 105.3,344.0 107.8,335.0" fill="#5d22f2"/><line x1="113.3" y1="395.0" x2="113.6" y2="423.0" stroke="#6a30f0" stroke-width="3.2" stroke-linecap="round"/><polygon points="44.0,384.0 127.0,384.0 127.0,395.0 44.0,395.0" fill="#5d22f2"/><ellipse cx="56.5" cy="350.0" rx="4" ry="9" fill="#7a3cf0" opacity="0.7"/><ellipse cx="63.5" cy="388.0" rx="4" ry="3" fill="#7a3cf0" opacity="0.6"/><ellipse cx="82.5" cy="350.0" rx="4" ry="9" fill="#7a3cf0" opacity="0.7"/><ellipse cx="89.5" cy="388.0" rx="4" ry="3" fill="#7a3cf0" opacity="0.6"/><ellipse cx="110.3" cy="350.0" rx="4" ry="9" fill="#7a3cf0" opacity="0.7"/><ellipse cx="117.3" cy="388.0" rx="4" ry="3" fill="#7a3cf0" opacity="0.6"/><ellipse cx="58.0" cy="367.0" rx="4.5" ry="3.5" fill="#2c24ff"/><ellipse cx="84.5" cy="366.0" rx="4" ry="3.5" fill="#2c24ff"/><ellipse cx="106.0" cy="354.0" rx="2.5" ry="2.5" fill="#2c24ff"/><ellipse cx="81.0" cy="382.0" rx="4" ry="4" fill="#2c24ff"/><ellipse cx="54.0" cy="378.0" rx="3" ry="3" fill="#2c24ff"/><ellipse cx="108.0" cy="380.0" rx="3" ry="4" fill="#2c24ff"/><ellipse cx="48.0" cy="389.0" rx="1.6" ry="1.6" fill="#30a0ff"/><ellipse cx="66.0" cy="391.0" rx="1.6" ry="1.6" fill="#30a0ff"/><ellipse cx="76.5" cy="388.0" rx="1.6" ry="1.6" fill="#30a0ff"/><ellipse cx="97.0" cy="391.0" rx="1.6" ry="1.6" fill="#30a0ff"/><ellipse cx="104.0" cy="390.0" rx="1.6" ry="1.6" fill="#30a0ff"/><ellipse cx="122.0" cy="391.0" rx="1.6" ry="1.6" fill="#30a0ff"/><polygon points="97.5,391.0 100.0,386.5 102.5,391.0" fill="#202020"/><ellipse cx="64.5" cy="378.0" rx="7" ry="8" fill="#2a34ff"/><ellipse cx="92.0" cy="379.0" rx="8" ry="8.5" fill="#2a34ff"/><ellipse cx="118.0" cy="378.0" rx="3.0" ry="3.6" fill="#2a90ff"/><ellipse cx="118.0" cy="378.0" rx="1.6" ry="2.2" fill="#40e0d0"/><ellipse cx="70.0" cy="382.0" rx="1.6" ry="2.4" fill="#30c0e0"/><ellipse cx="60.2" cy="393.0" rx="2.4" ry="1.5" fill="#f4f0ff"/><ellipse cx="85.8" cy="394.5" rx="2.4" ry="1.5" fill="#f4f0ff"/><ellipse cx="113.9" cy="394.5" rx="2.4" ry="1.5" fill="#f4f0ff"/></g><g filter="url(#bl2)"><path d="M58.5,375 Q64,366.5 70,374 Q70.5,380 66,385.5 Q60,381 58.5,375 Z" fill="#1d4cff"/><path d="M60,375.5 Q64.5,368.5 69,374.5 Q69,379.5 65.8,384 Q61,380.5 60,375.5 Z" fill="#20d0c0"/><path d="M61.3,375.5 Q64.5,370.5 67.8,375 Q67.6,379 65.5,381.5 Q62,379.5 61.3,375.5 Z" fill="#a8e040"/><ellipse cx="64.6" cy="376.0" rx="1.9" ry="2.8" fill="#e01a10" transform="rotate(20 64.6 376.0)"/><ellipse cx="69.0" cy="381.0" rx="1.3" ry="1.5" fill="#40e0b0"/><path d="M84,377 Q91.5,366.5 99.5,376.5 Q99,383 93,387.5 Q85.5,383 84,377 Z" fill="#1d4cff"/><path d="M85.5,377.5 Q91.8,369 98,377 Q97.5,382 92.8,386 Q87,382 85.5,377.5 Z" fill="#20d0a0"/><path d="M87,377.5 Q92,371 96.6,377.3 Q96,381 92.5,383.5 Q88,381 87,377.5 Z" fill="#d8e030"/><ellipse cx="92.0" cy="377.8" rx="3.4" ry="3.3" fill="#e8160c"/><ellipse cx="97.5" cy="381.0" rx="1.2" ry="2" fill="#40e0b0"/></g></g><rect x="42.7" y="336.6" width="85.2" height="85.8" fill="none" stroke="#000" stroke-width="2"/>
<clipPath id="c4"><rect x="133.2" y="336.6" width="85.2" height="85.8"/></clipPath><g clip-path="url(#c4)"><rect x="133.2" y="336.6" width="85.2" height="85.8" fill="#626262"/><rect x="133.2" y="336.6" width="1.5" height="85.8" fill="rgb(95,95,95)" opacity="0.5"/><rect x="134.7" y="336.6" width="1" height="85.8" fill="rgb(109,109,109)" opacity="0.5"/><rect x="135.7" y="336.6" width="2.5" height="85.8" fill="rgb(101,101,101)" opacity="0.5"/><rect x="138.2" y="336.6" width="1.5" height="85.8" fill="rgb(88,88,88)" opacity="0.5"/><rect x="139.7" y="336.6" width="1" height="85.8" fill="rgb(86,86,86)" opacity="0.5"/><rect x="140.7" y="336.6" width="2.5" height="85.8" fill="rgb(103,103,103)" opacity="0.5"/><rect x="143.2" y="336.6" width="2" height="85.8" fill="rgb(110,110,110)" opacity="0.5"/><rect x="145.2" y="336.6" width="1" height="85.8" fill="rgb(93,93,93)" opacity="0.5"/><rect x="146.2" y="336.6" width="3" height="85.8" fill="rgb(103,103,103)" opacity="0.5"/><rect x="149.2" y="336.6" width="2" height="85.8" fill="rgb(94,94,94)" opacity="0.5"/><rect x="151.2" y="336.6" width="1.5" height="85.8" fill="rgb(89,89,89)" opacity="0.5"/><rect x="152.7" y="336.6" width="2" height="85.8" fill="rgb(92,92,92)" opacity="0.5"/><rect x="154.7" y="336.6" width="1" height="85.8" fill="rgb(106,106,106)" opacity="0.5"/><rect x="155.7" y="336.6" width="2" height="85.8" fill="rgb(94,94,94)" opacity="0.5"/><rect x="157.7" y="336.6" width="1.5" height="85.8" fill="rgb(91,91,91)" opacity="0.5"/><rect x="159.2" y="336.6" width="2" height="85.8" fill="rgb(95,95,95)" opacity="0.5"/><rect x="161.2" y="336.6" width="2" height="85.8" fill="rgb(88,88,88)" opacity="0.5"/><rect x="163.2" y="336.6" width="3" height="85.8" fill="rgb(96,96,96)" opacity="0.5"/><rect x="166.2" y="336.6" width="2.5" height="85.8" fill="rgb(102,102,102)" opacity="0.5"/><rect x="168.7" y="336.6" width="1.5" height="85.8" fill="rgb(91,91,91)" opacity="0.5"/><rect x="170.2" y="336.6" width="1.5" height="85.8" fill="rgb(101,101,101)" opacity="0.5"/><rect x="171.7" y="336.6" width="2" height="85.8" fill="rgb(88,88,88)" opacity="0.5"/><rect x="173.7" y="336.6" width="3" height="85.8" fill="rgb(95,95,95)" opacity="0.5"/><rect x="176.7" y="336.6" width="1" height="85.8" fill="rgb(95,95,95)" opacity="0.5"/><rect x="177.7" y="336.6" width="3" height="85.8" fill="rgb(108,108,108)" opacity="0.5"/><rect x="180.7" y="336.6" width="2" height="85.8" fill="rgb(110,110,110)" opacity="0.5"/><rect x="182.7" y="336.6" width="3" height="85.8" fill="rgb(92,92,92)" opacity="0.5"/><rect x="185.7" y="336.6" width="2.5" height="85.8" fill="rgb(99,99,99)" opacity="0.5"/><rect x="188.2" y="336.6" width="3" height="85.8" fill="rgb(95,95,95)" opacity="0.5"/><rect x="191.2" y="336.6" width="2.5" height="85.8" fill="rgb(100,100,100)" opacity="0.5"/><rect x="193.7" y="336.6" width="1.5" height="85.8" fill="rgb(93,93,93)" opacity="0.5"/><rect x="195.2" y="336.6" width="2" height="85.8" fill="rgb(94,94,94)" opacity="0.5"/><rect x="197.2" y="336.6" width="1" height="85.8" fill="rgb(88,88,88)" opacity="0.5"/><rect x="198.2" y="336.6" width="1" height="85.8" fill="rgb(100,100,100)" opacity="0.5"/><rect x="199.2" y="336.6" width="2" height="85.8" fill="rgb(102,102,102)" opacity="0.5"/><rect x="201.2" y="336.6" width="3" height="85.8" fill="rgb(106,106,106)" opacity="0.5"/><rect x="204.2" y="336.6" width="2.5" height="85.8" fill="rgb(108,108,108)" opacity="0.5"/><rect x="206.7" y="336.6" width="2" height="85.8" fill="rgb(90,90,90)" opacity="0.5"/><rect x="208.7" y="336.6" width="1.5" height="85.8" fill="rgb(88,88,88)" opacity="0.5"/><rect x="210.2" y="336.6" width="2.5" height="85.8" fill="rgb(92,92,92)" opacity="0.5"/><rect x="212.7" y="336.6" width="2.5" height="85.8" fill="rgb(94,94,94)" opacity="0.5"/><rect x="215.2" y="336.6" width="1.5" height="85.8" fill="rgb(97,97,97)" opacity="0.5"/><rect x="216.7" y="336.6" width="2.5" height="85.8" fill="rgb(109,109,109)" opacity="0.5"/><g filter="url(#bl)"><path d="M149.5,334.0 L153.1,336.0 L154.7,340.0 L155.3,345.0 L157.9,350.0 L160.1,355.0 L161.8,364.0 L162.9,374.0 L163.6,384.0 L163.2,391.0 L158.5,395.0 L152.9,396.0 L146.1,396.0 L140.5,395.0 L135.8,391.0 L135.4,384.0 L136.1,374.0 L137.2,364.0 L138.9,355.0 L141.1,350.0 L143.7,345.0 L144.3,340.0 L145.9,336.0 L149.5,334.0 Z" fill="#4e4e4e" stroke="#2a2a2a" stroke-width="2.2"/><ellipse cx="149.5" cy="341.0" rx="4.5" ry="5" fill="#8e8e8e"/><ellipse cx="149.5" cy="337.5" rx="2.5" ry="2" fill="#d8d8d8"/><ellipse cx="149.5" cy="368.0" rx="7" ry="16" fill="#5a5a5a" opacity="0.8"/><path d="M177.5,334.0 L181.1,336.0 L182.7,340.0 L183.3,345.0 L185.9,350.0 L188.1,355.0 L189.8,364.0 L190.9,374.0 L191.6,384.0 L191.2,391.0 L186.5,395.0 L180.9,396.0 L174.1,396.0 L168.5,395.0 L163.8,391.0 L163.4,384.0 L164.1,374.0 L165.2,364.0 L166.9,355.0 L169.1,350.0 L171.7,345.0 L172.3,340.0 L173.9,336.0 L177.5,334.0 Z" fill="#4e4e4e" stroke="#2a2a2a" stroke-width="2.2"/><ellipse cx="177.5" cy="341.0" rx="4.5" ry="5" fill="#8e8e8e"/><ellipse cx="177.5" cy="337.5" rx="2.5" ry="2" fill="#d8d8d8"/><ellipse cx="177.5" cy="368.0" rx="7" ry="16" fill="#5a5a5a" opacity="0.8"/><path d="M205.0,334.0 L208.6,336.0 L210.2,340.0 L210.8,345.0 L213.4,350.0 L215.6,355.0 L217.3,364.0 L218.4,374.0 L219.1,384.0 L218.7,391.0 L214.0,395.0 L208.4,396.0 L201.6,396.0 L196.0,395.0 L191.3,391.0 L190.9,384.0 L191.6,374.0 L192.7,364.0 L194.4,355.0 L196.6,350.0 L199.2,345.0 L199.8,340.0 L201.4,336.0 L205.0,334.0 Z" fill="#4e4e4e" stroke="#2a2a2a" stroke-width="2.2"/><ellipse cx="205.0" cy="341.0" rx="4.5" ry="5" fill="#8e8e8e"/><ellipse cx="205.0" cy="337.5" rx="2.5" ry="2" fill="#d8d8d8"/><ellipse cx="205.0" cy="368.0" rx="7" ry="16" fill="#5a5a5a" opacity="0.8"/><ellipse cx="143.8" cy="349.5" rx="1.8" ry="1.8" fill="#f0f0f0"/><ellipse cx="157.4" cy="352.0" rx="1.8" ry="1.8" fill="#f0f0f0"/><ellipse cx="168.4" cy="354.3" rx="1.8" ry="1.8" fill="#f0f0f0"/><ellipse cx="177.7" cy="357.2" rx="1.8" ry="1.8" fill="#f0f0f0"/><ellipse cx="182.8" cy="353.8" rx="1.8" ry="1.8" fill="#f0f0f0"/><ellipse cx="201.4" cy="353.0" rx="1.8" ry="1.8" fill="#f0f0f0"/><ellipse cx="213.2" cy="353.8" rx="1.8" ry="1.8" fill="#f0f0f0"/><ellipse cx="136.0" cy="393.0" rx="2.0" ry="1.5" fill="#d4d4d4"/><ellipse cx="141.0" cy="392.0" rx="2.0" ry="1.5" fill="#d4d4d4"/><ellipse cx="164.0" cy="394.0" rx="2.0" ry="1.5" fill="#d4d4d4"/><ellipse cx="168.0" cy="395.0" rx="2.0" ry="1.5" fill="#d4d4d4"/><ellipse cx="186.0" cy="395.0" rx="2.0" ry="1.5" fill="#d4d4d4"/><ellipse cx="191.0" cy="395.0" rx="2.0" ry="1.5" fill="#d4d4d4"/><ellipse cx="199.0" cy="395.0" rx="2.0" ry="1.5" fill="#d4d4d4"/><ellipse cx="216.0" cy="391.0" rx="2.0" ry="1.5" fill="#d4d4d4"/><ellipse cx="150.0" cy="394.0" rx="2.0" ry="1.5" fill="#d4d4d4"/><ellipse cx="176.0" cy="395.0" rx="2.0" ry="1.5" fill="#d4d4d4"/><ellipse cx="203.0" cy="394.0" rx="2.0" ry="1.5" fill="#d4d4d4"/><line x1="163.5" y1="338.0" x2="163.5" y2="388.0" stroke="#363636" stroke-width="3" stroke-linecap="round"/><line x1="191.5" y1="338.0" x2="191.5" y2="388.0" stroke="#363636" stroke-width="3" stroke-linecap="round"/><path d="M150.6,389 Q150.6,405 148.9,422" fill="none" stroke="#e2e2e2" stroke-width="2.6"/><ellipse cx="150.6" cy="389.5" rx="3" ry="2.5" fill="#c8c8c8"/><path d="M175.1,389 Q175.1,405 176.8,422" fill="none" stroke="#e2e2e2" stroke-width="2.6"/><ellipse cx="175.1" cy="389.5" rx="3" ry="2.5" fill="#c8c8c8"/><path d="M208.1,389 Q208.1,405 203,422" fill="none" stroke="#e2e2e2" stroke-width="2.6"/><ellipse cx="208.1" cy="389.5" rx="3" ry="2.5" fill="#c8c8c8"/></g><g filter="url(#bl2)"></g></g><rect x="133.2" y="336.6" width="85.2" height="85.8" fill="none" stroke="#000" stroke-width="2"/>
</svg>
</body></html>
